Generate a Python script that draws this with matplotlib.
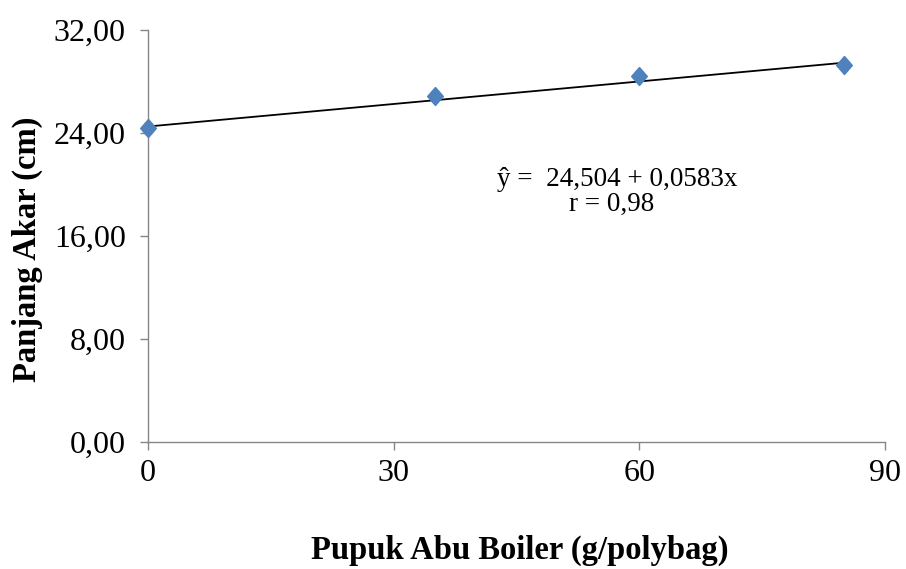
import matplotlib.pyplot as plt
import numpy as np

# data
dosis = [0, 35, 60, 85]
panjang_akar = [24.35, 26.85, 28.4, 29.25]
intercept = 24.504
slope = 0.0583

x_ticks = [0, 30, 60, 90]
y_ticks = [0, 8, 16, 24, 32]

plt.rcParams['font.family'] = ['Liberation Serif', 'DejaVu Serif']

fig = plt.figure(figsize=(9.06, 5.69), dpi=100)
ax = fig.add_axes([0.1634, 0.2232, 0.8134, 0.7241])

# trend line from regression
xl = np.array([dosis[0], dosis[-1]])
ax.plot(xl, intercept + slope * xl, color='black', lw=1.3, zorder=2)
# excel style diamond, a bit taller than wide
diamond = [(0, 1.15), (1, 0), (0, -1.15), (-1, 0), (0, 1.15)]
ax.plot(dosis, panjang_akar, linestyle='none', marker=diamond, markersize=13,
        color='#4F81BD', zorder=3, clip_on=False)

ax.set_xlim(0, 90)
ax.set_ylim(0, 32)
ax.set_xticks(x_ticks)
ax.set_yticks(y_ticks)
ax.set_xticklabels([str(v) for v in x_ticks])
ax.set_yticklabels(['{:.2f}'.format(v).replace('.', ',') for v in y_ticks])

for s in ['top', 'right']:
    ax.spines[s].set_visible(False)
for s in ['left', 'bottom']:
    ax.spines[s].set_color('#868686')
    ax.spines[s].set_linewidth(1.0)
ax.tick_params(axis='both', direction='out', length=6, color='#868686',
               labelsize=23, width=1.0)
ax.tick_params(axis='x', pad=6)
ax.tick_params(axis='y', pad=10)

fig.text(0.574, 0.032, 'Pupuk Abu Boiler (g/polybag)', ha='center', va='center',
         fontsize=23.5, fontweight='bold')
fig.text(0.030, 0.561, 'Panjang Akar (cm)', ha='center', va='center',
         rotation=90, fontsize=23.5, fontweight='bold')

fig.text(0.681, 0.684, 'ŷ =  24,504 + 0,0583x', ha='center', va='center',
         fontsize=19.5)
fig.text(0.675, 0.641, 'r = 0,98', ha='center', va='center', fontsize=19.5)

fig.savefig('out.png', dpi=100)
